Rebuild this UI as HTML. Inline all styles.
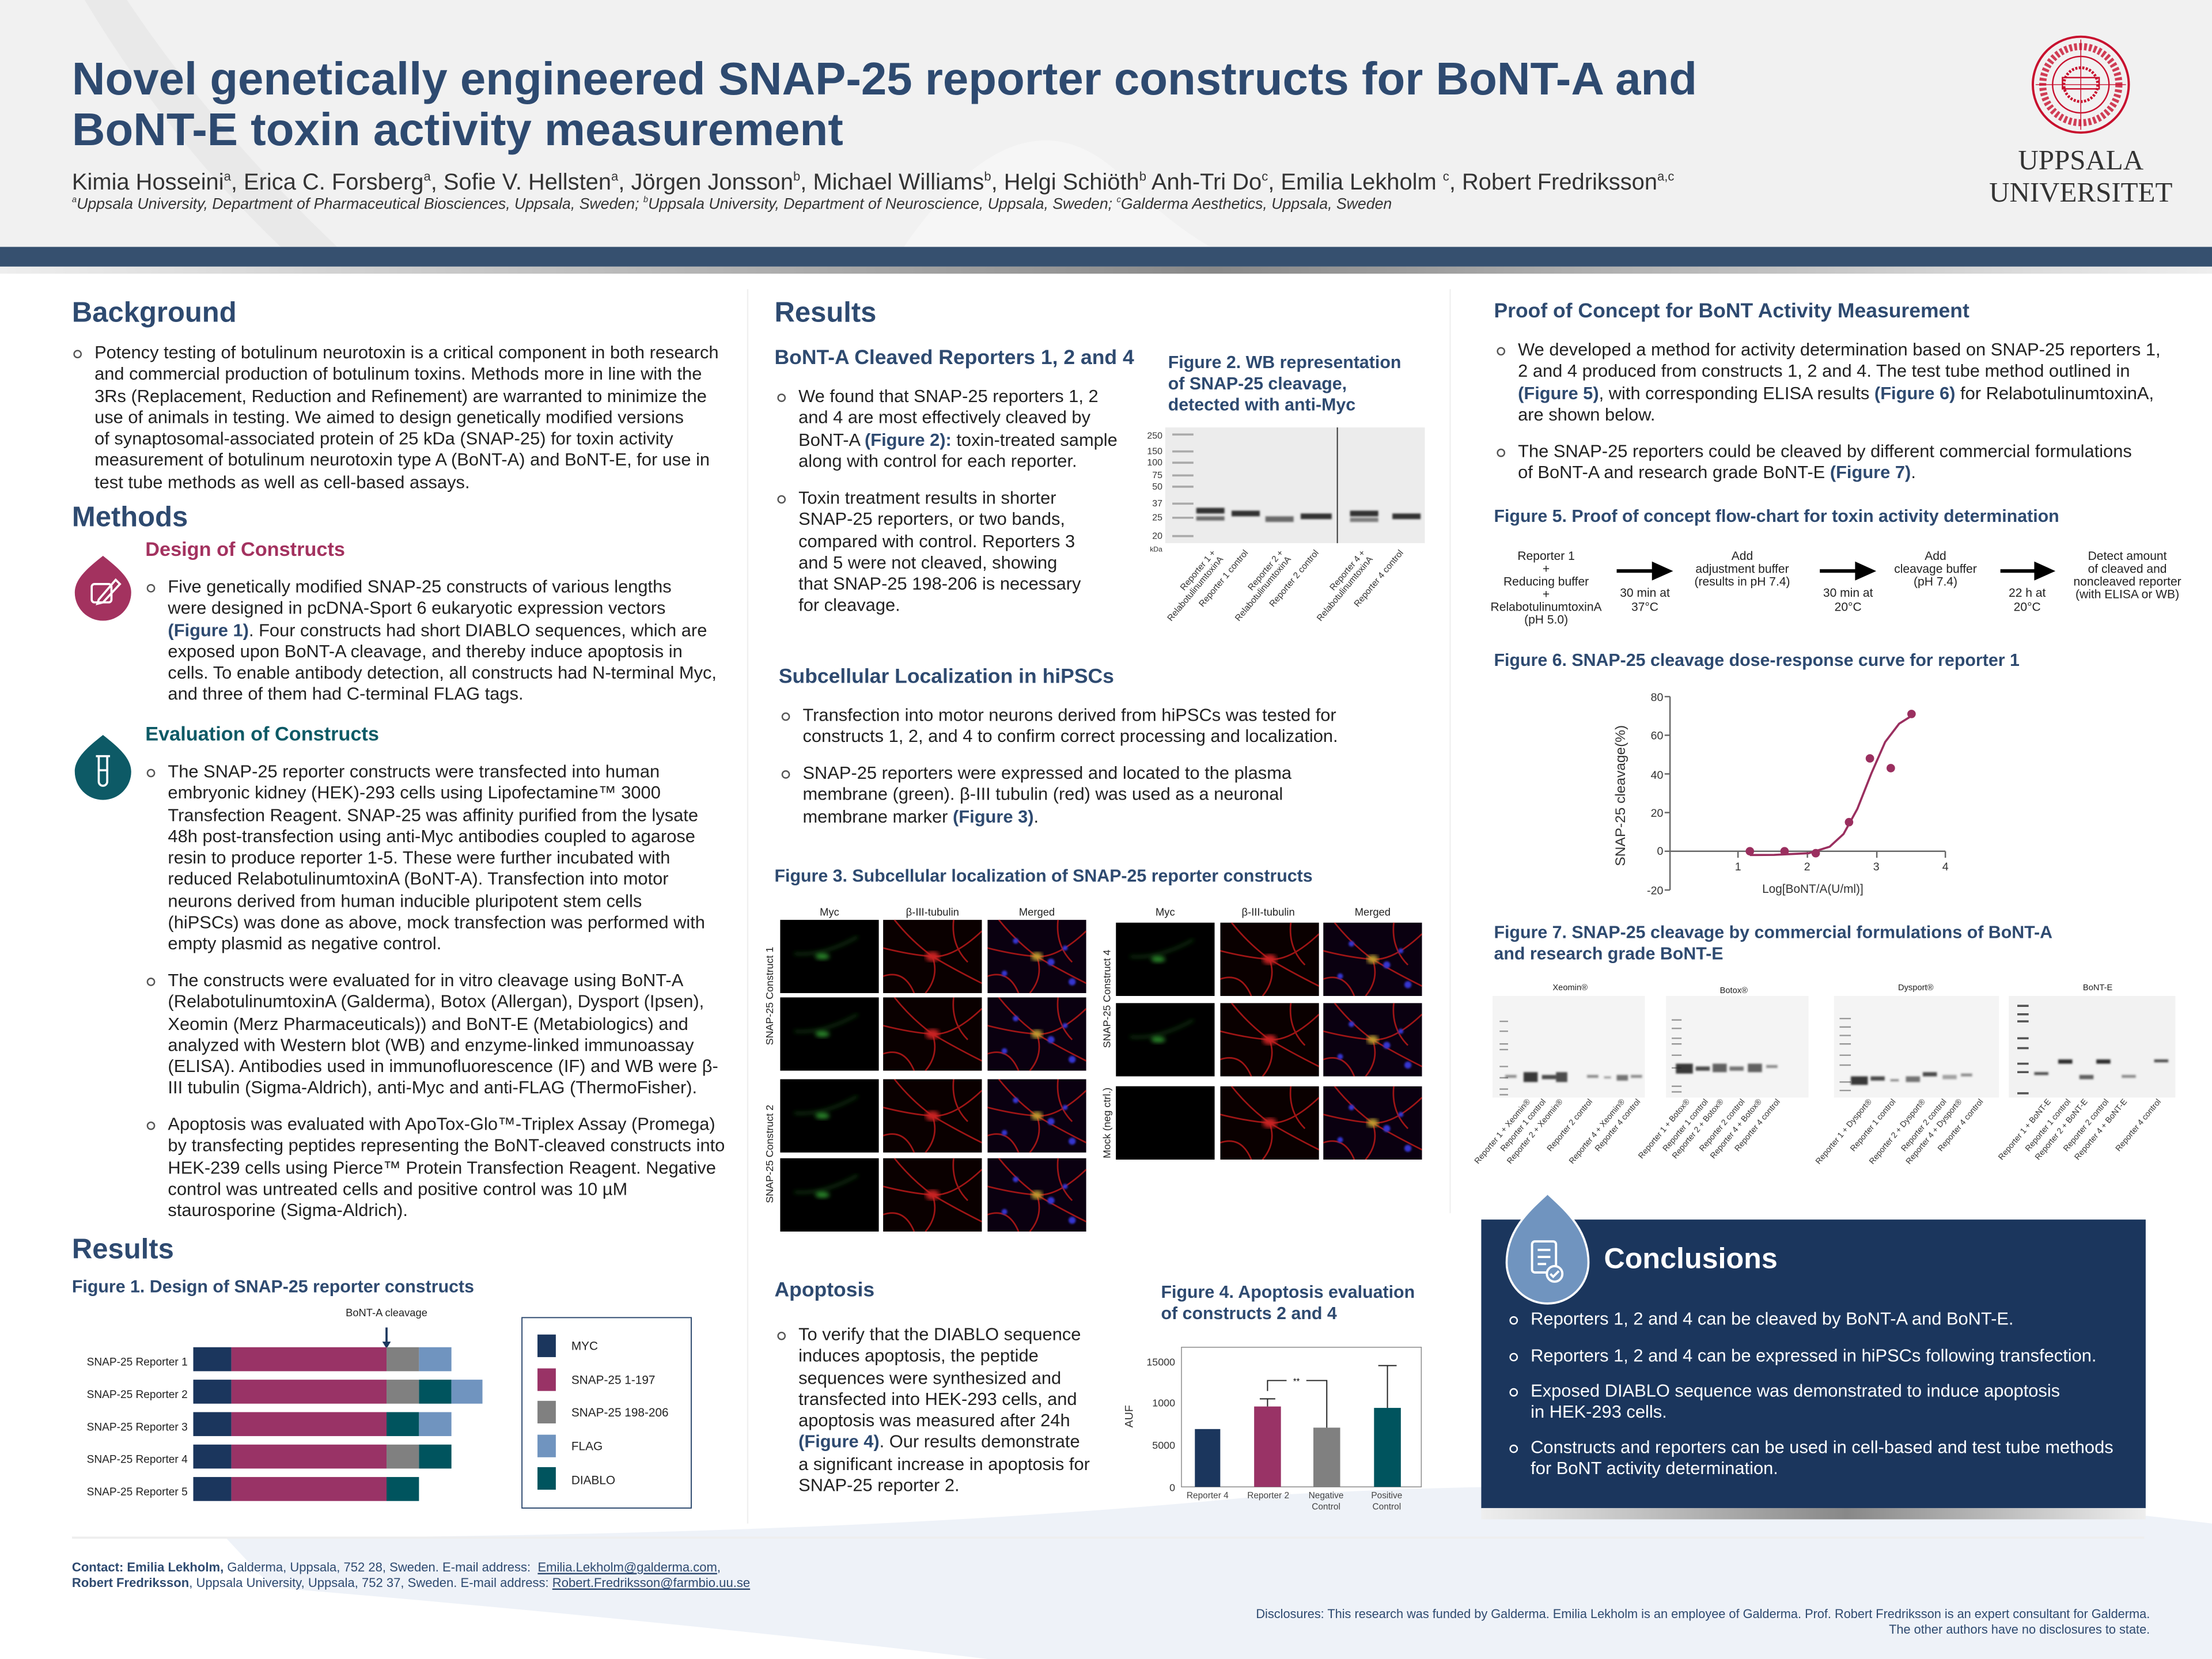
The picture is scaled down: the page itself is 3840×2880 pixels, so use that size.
<!DOCTYPE html>
<html><head><meta charset="utf-8">
<style>
*{margin:0;padding:0;box-sizing:border-box}
html,body{width:3840px;height:2880px;overflow:hidden;background:#fff}
#s{position:absolute;left:0;top:0;width:1568px;height:1176px;transform:scale(2.44898);transform-origin:0 0;font-family:"Liberation Sans",sans-serif;color:#222}
.a{position:absolute;white-space:nowrap}
.h1{font-size:20px;font-weight:bold;color:#2e4a70}
.h2{font-size:14.5px;font-weight:bold;color:#2e4a70}
.fg{font-size:12.4px;font-weight:bold;color:#2e4a70;line-height:15px}
.p{font-size:12.6px;line-height:15.3px}
.b{position:absolute;width:6px;height:6px;border:1px solid #555;border-radius:50%;margin-left:-15px;margin-top:5px}
.fl{color:#2e4a70;font-weight:bold}
.w .b{border-color:#fff}
</style></head><body><div id="s">
<svg width="1568" height="1176" style="position:absolute;left:0;top:0" xmlns="http://www.w3.org/2000/svg" font-family="Liberation Sans, sans-serif">
<defs>
<linearGradient id="sh" x1="0" x2="1"><stop offset="0" stop-color="#eee"/><stop offset=".55" stop-color="#888"/><stop offset="1" stop-color="#eee"/></linearGradient>
<filter id="bl"><feGaussianBlur stdDeviation="0.7"/></filter>
<filter id="bl2"><feGaussianBlur stdDeviation="1.5"/></filter>
<symbol id="myc" viewBox="0 0 70 52"><rect width="70" height="52" fill="#000"/><g filter="url(#bl2)"><ellipse cx="30" cy="26" rx="5" ry="2" fill="#2a8a2a"/><path d="M10 24 Q30 26 55 12" stroke="#1c5a1c" stroke-width="1" fill="none"/></g></symbol>
<symbol id="tub" viewBox="0 0 70 52"><rect width="70" height="52" fill="#0a0000"/><g stroke="#b01818" stroke-width="1.1" fill="none" opacity=".9"><path d="M0 20 Q20 25 35 26 T70 8"/><path d="M35 26 Q40 40 30 52"/><path d="M35 26 Q50 35 70 45"/><path d="M8 0 Q20 15 35 26"/><path d="M0 40 Q15 35 22 52"/><path d="M50 0 Q48 18 60 30"/></g><ellipse cx="35" cy="26" rx="5" ry="3.5" fill="#c82020" filter="url(#bl2)"/></symbol>
<symbol id="mrg" viewBox="0 0 70 52"><rect width="70" height="52" fill="#0a0010"/><g stroke="#b01818" stroke-width="1.1" fill="none" opacity=".9"><path d="M0 20 Q20 25 35 26 T70 8"/><path d="M35 26 Q40 40 30 52"/><path d="M35 26 Q50 35 70 45"/><path d="M8 0 Q20 15 35 26"/><path d="M0 40 Q15 35 22 52"/><path d="M50 0 Q48 18 60 30"/></g><g fill="#3434d0" filter="url(#bl)"><circle cx="20" cy="15" r="2"/><circle cx="45" cy="30" r="2.5"/><circle cx="55" cy="20" r="1.8"/><circle cx="12" cy="38" r="2"/><circle cx="60" cy="44" r="2.5"/></g><ellipse cx="35" cy="26" rx="4" ry="3" fill="#c0a030" filter="url(#bl2)"/></symbol>
</defs>
<rect width="1568" height="176" fill="#f1f1f1"/>
<path d="M60 0 Q120 100 200 176 L240 176 Q150 90 90 0Z" fill="#e9e9e9"/>
<path d="M640 176 Q720 60 790 120 Q830 160 860 176Z" fill="#f6f6f6"/>
<rect y="175" width="1568" height="14" fill="#36506f"/>
<rect y="189" width="1568" height="5" fill="url(#sh)"/>
<path d="M160 1090 Q600 1090 900 1060 Q1250 1040 1568 1080 L1568 1176 L240 1176Z" fill="#eef2f8"/>
<path d="M0 1110 Q400 1140 700 1176 L0 1176Z" fill="#fff"/>
<line x1="530" y1="205" x2="530" y2="1080" stroke="#f0f0f0" stroke-width="1"/>
<line x1="1028" y1="205" x2="1028" y2="860" stroke="#f0f0f0" stroke-width="1"/>
<line x1="51" y1="1090" x2="1520" y2="1090" stroke="#eee" stroke-width="1.5"/>
<g fill="none" stroke="#c8102e"><circle cx="1475" cy="60" r="34" stroke-width="1.6"/><circle cx="1475" cy="60" r="27" stroke-width="5" stroke-dasharray="2 1.5" opacity=".8"/><circle cx="1475" cy="60" r="20" stroke-width="1"/><circle cx="1475" cy="60" r="12" stroke-width="2" stroke-dasharray="1.5 1"/><rect x="1462" y="55" width="26" height="8" stroke-width="1"/><path d="M1475 28 V92 M1443 60 H1507" stroke-width=".6"/></g>
<text x="1475" y="120" font-family="Liberation Serif, serif" font-size="20" text-anchor="middle" fill="#333">UPPSALA</text>
<text x="1475" y="143" font-family="Liberation Serif, serif" font-size="20" text-anchor="middle" fill="#333">UNIVERSITET</text>
<path d="M73 394 C83 402 93 410 93 420 A20 20 0 1 1 53 420 C53 410 63 402 73 394Z" fill="#a3325f"/>
<g stroke="#fff" stroke-width="1.5" fill="none"><rect x="65" y="414" width="14" height="13" rx="2"/><path d="M70 425 L82 411 L85 414 L73 427 L69 428Z"/></g>
<path d="M73 521 C83 529 93 537 93 547 A20 20 0 1 1 53 547 C53 537 63 529 73 521Z" fill="#0d5a66"/>
<g stroke="#fff" stroke-width="1.5" fill="none"><path d="M68 536 H78 M70 536 V554 A3 3 0 0 0 76 554 V536"/><path d="M70 546 H76"/></g>
<text x="274" y="933" font-size="7.5" text-anchor="middle" fill="#222">BoNT-A cleavage</text>
<line x1="274" y1="941" x2="274" y2="952" stroke="#1b365d" stroke-width="1.5"/><path d="M271 951 L277 951 L274 956Z" fill="#1b365d"/>
<g font-size="7.8" text-anchor="end" fill="#222">
<text x="133" y="968">SNAP-25 Reporter 1</text><text x="133" y="991">SNAP-25 Reporter 2</text><text x="133" y="1014">SNAP-25 Reporter 3</text><text x="133" y="1037">SNAP-25 Reporter 4</text><text x="133" y="1060">SNAP-25 Reporter 5</text></g>
<g>
<rect x="137" y="955" width="27" height="17" fill="#1b365d"/><rect x="164" y="955" width="110" height="17" fill="#993366"/><rect x="274" y="955" width="23" height="17" fill="#808080"/><rect x="297" y="955" width="23" height="17" fill="#7094bf"/>
<rect x="137" y="978" width="27" height="17" fill="#1b365d"/><rect x="164" y="978" width="110" height="17" fill="#993366"/><rect x="274" y="978" width="23" height="17" fill="#808080"/><rect x="297" y="978" width="23" height="17" fill="#00545e"/><rect x="320" y="978" width="22" height="17" fill="#7094bf"/>
<rect x="137" y="1001" width="27" height="17" fill="#1b365d"/><rect x="164" y="1001" width="110" height="17" fill="#993366"/><rect x="274" y="1001" width="23" height="17" fill="#00545e"/><rect x="297" y="1001" width="23" height="17" fill="#7094bf"/>
<rect x="137" y="1024" width="27" height="17" fill="#1b365d"/><rect x="164" y="1024" width="110" height="17" fill="#993366"/><rect x="274" y="1024" width="23" height="17" fill="#808080"/><rect x="297" y="1024" width="23" height="17" fill="#00545e"/>
<rect x="137" y="1047" width="27" height="17" fill="#1b365d"/><rect x="164" y="1047" width="110" height="17" fill="#993366"/><rect x="274" y="1047" width="23" height="17" fill="#00545e"/>
</g>
<rect x="370" y="934" width="120" height="135" fill="#fff" stroke="#2e4a70" stroke-width=".8"/>
<rect x="381" y="946" width="13" height="16" fill="#1b365d"/><rect x="381" y="970" width="13" height="16" fill="#993366"/><rect x="381" y="993" width="13" height="16" fill="#808080"/><rect x="381" y="1017" width="13" height="16" fill="#7094bf"/><rect x="381" y="1040" width="13" height="16" fill="#00545e"/>
<g font-size="8.5" fill="#222"><text x="405" y="957">MYC</text><text x="405" y="981">SNAP-25 1-197</text><text x="405" y="1004">SNAP-25 198-206</text><text x="405" y="1028">FLAG</text><text x="405" y="1052">DIABLO</text></g>
<rect x="826" y="303" width="184" height="82" fill="#ececec"/>
<g stroke="#aaa" stroke-width="1.5"><line x1="831" y1="308" x2="846" y2="308"/><line x1="831" y1="320" x2="846" y2="320"/><line x1="831" y1="328" x2="846" y2="328"/><line x1="831" y1="337" x2="846" y2="337"/><line x1="831" y1="345" x2="846" y2="345"/><line x1="831" y1="357" x2="846" y2="357"/><line x1="831" y1="367" x2="846" y2="367"/><line x1="831" y1="380" x2="846" y2="380"/></g>
<g fill="#333" filter="url(#bl)"><rect x="848" y="360" width="20" height="4"/><rect x="848" y="366" width="20" height="3" opacity=".7"/><rect x="873" y="362" width="20" height="4"/><rect x="897" y="366" width="20" height="4" opacity=".7"/><rect x="922" y="364" width="22" height="4"/><rect x="957" y="362" width="20" height="4"/><rect x="957" y="367" width="20" height="3" opacity=".6"/><rect x="987" y="364" width="20" height="4"/></g>
<line x1="948" y1="303" x2="948" y2="385" stroke="#333" stroke-width=".8"/>
<g font-size="6.5" text-anchor="end" fill="#333"><text x="824" y="311">250</text><text x="824" y="322">150</text><text x="824" y="330">100</text><text x="824" y="339">75</text><text x="824" y="347">50</text><text x="824" y="359">37</text><text x="824" y="369">25</text><text x="824" y="382">20</text><text x="824" y="391" font-size="5">kDa</text></g>
<g font-size="6.3" text-anchor="end" fill="#333">
<text transform="translate(862,392) rotate(-50)"><tspan x="0" y="0">Reporter 1 +</tspan><tspan x="0" y="7">RelabotulinumtoxinA</tspan></text>
<text transform="translate(885,392) rotate(-50)">Reporter 1 control</text>
<text transform="translate(910,392) rotate(-50)"><tspan x="0" y="0">Reporter 2 +</tspan><tspan x="0" y="7">RelabotulinumtoxinA</tspan></text>
<text transform="translate(935,392) rotate(-50)">Reporter 2 control</text>
<text transform="translate(968,392) rotate(-50)"><tspan x="0" y="0">Reporter 4 +</tspan><tspan x="0" y="7">RelabotulinumtoxinA</tspan></text>
<text transform="translate(995,392) rotate(-50)">Reporter 4 control</text></g>
<g font-size="7.5" text-anchor="middle" fill="#222"><text x="588" y="649">Myc</text><text x="661" y="649">β-III-tubulin</text><text x="735" y="649">Merged</text><text x="826" y="649">Myc</text><text x="899" y="649">β-III-tubulin</text><text x="973" y="649">Merged</text></g>
<g font-size="7.3" text-anchor="middle" fill="#222"><text transform="translate(548,706) rotate(-90)">SNAP-25  Construct 1</text><text transform="translate(548,818) rotate(-90)">SNAP-25  Construct 2</text><text transform="translate(787,708) rotate(-90)">SNAP-25  Construct 4</text><text transform="translate(787,796) rotate(-90)">Mock (neg ctrl.)</text></g>
<use href="#myc" x="553" y="652" width="70" height="52"/><use href="#tub" x="626" y="652" width="70" height="52"/><use href="#mrg" x="700" y="652" width="70" height="52"/>
<use href="#myc" x="553" y="707" width="70" height="52"/><use href="#tub" x="626" y="707" width="70" height="52"/><use href="#mrg" x="700" y="707" width="70" height="52"/>
<use href="#myc" x="553" y="765" width="70" height="52"/><use href="#tub" x="626" y="765" width="70" height="52"/><use href="#mrg" x="700" y="765" width="70" height="52"/>
<use href="#myc" x="553" y="821" width="70" height="52"/><use href="#tub" x="626" y="821" width="70" height="52"/><use href="#mrg" x="700" y="821" width="70" height="52"/>
<use href="#myc" x="791" y="654" width="70" height="52"/><use href="#tub" x="865" y="654" width="70" height="52"/><use href="#mrg" x="938" y="654" width="70" height="52"/>
<use href="#myc" x="791" y="711" width="70" height="52"/><use href="#tub" x="865" y="711" width="70" height="52"/><use href="#mrg" x="938" y="711" width="70" height="52"/>
<rect x="791" y="770" width="70" height="52" fill="#000"/><use href="#tub" x="865" y="770" width="70" height="52"/><use href="#mrg" x="938" y="770" width="70" height="52"/>
<rect x="837.5" y="955" width="170" height="99" fill="#fff" stroke="#888" stroke-width=".6"/>
<g font-size="7.3" text-anchor="end" fill="#333"><text x="833" y="968">15000</text><text x="833" y="997">1000</text><text x="833" y="1027">5000</text><text x="833" y="1057">0</text></g>
<text transform="translate(803,1004) rotate(-90)" font-size="8" text-anchor="middle" fill="#333">AUF</text>
<rect x="847" y="1013" width="18" height="41" fill="#1b365d"/><rect x="889" y="997" width="19" height="57" fill="#993366"/><rect x="931" y="1012" width="19" height="42" fill="#808080"/><rect x="974" y="998" width="19" height="56" fill="#00545e"/>
<g stroke="#222" stroke-width=".8" fill="none"><path d="M898.5 997 V991.6 M893 991.6 H904"/><path d="M983.5 998 V968 M977 968 H990"/><path d="M898.5 986 V978.6 H912 M926 978.6 H940.5 V1012"/></g>
<text x="919" y="981" font-size="6" text-anchor="middle">**</text>
<g font-size="6.3" text-anchor="middle" fill="#444"><text x="856" y="1062">Reporter 4</text><text x="899" y="1062">Reporter 2</text><text x="940" y="1062">Negative</text><text x="940" y="1070">Control</text><text x="983" y="1062">Positive</text><text x="983" y="1070">Control</text></g>
<g font-size="8.6" text-anchor="middle" fill="#222">
<text x="1096" y="397">Reporter 1</text><text x="1096" y="406">+</text><text x="1096" y="415">Reducing buffer</text><text x="1096" y="424">+</text><text x="1096" y="433">RelabotulinumtoxinA</text><text x="1096" y="442">(pH 5.0)</text>
<text x="1166" y="423">30 min at</text><text x="1166" y="433">37°C</text>
<text x="1235" y="397">Add</text><text x="1235" y="406">adjustment buffer</text><text x="1235" y="415">(results in pH 7.4)</text>
<text x="1310" y="423">30 min at</text><text x="1310" y="433">20°C</text>
<text x="1372" y="397">Add</text><text x="1372" y="406">cleavage buffer</text><text x="1372" y="415">(pH 7.4)</text>
<text x="1437" y="423">22 h at</text><text x="1437" y="433">20°C</text>
<text x="1508" y="397">Detect amount</text><text x="1508" y="406">of cleaved and</text><text x="1508" y="415">noncleaved reporter</text><text x="1508" y="424">(with ELISA or WB)</text></g>
<g fill="#000"><rect x="1146" y="403.5" width="26" height="2.5"/><path d="M1171 398 L1186 404.8 L1171 411.5Z"/><rect x="1290" y="403.5" width="26" height="2.5"/><path d="M1315 398 L1330 404.8 L1315 411.5Z"/><rect x="1418" y="403.5" width="25" height="2.5"/><path d="M1442 398 L1457 404.8 L1442 411.5Z"/></g>
<g stroke="#666" stroke-width="1" fill="none"><path d="M1183.8 493.8 V630.9"/><path d="M1183.8 603.4 H1379"/><path d="M1180 493.8 H1183.8 M1180 521.2 H1183.8 M1180 548.6 H1183.8 M1180 576 H1183.8 M1180 603.4 H1183.8 M1180 630.9 H1183.8"/><path d="M1232 603.4 V608 M1281.2 603.4 V608 M1330.4 603.4 V608 M1379 603.4 V608"/></g>
<g font-size="8" fill="#333" text-anchor="end"><text x="1179" y="497">80</text><text x="1179" y="524">60</text><text x="1179" y="552">40</text><text x="1179" y="579">20</text><text x="1179" y="606">0</text><text x="1179" y="634">-20</text></g>
<g font-size="8" fill="#333" text-anchor="middle"><text x="1232" y="617">1</text><text x="1281" y="617">2</text><text x="1330" y="617">3</text><text x="1379" y="617">4</text></g>
<text x="1285" y="633" font-size="8.5" text-anchor="middle" fill="#333">Log[BoNT/A(U/ml)]</text>
<text transform="translate(1152,564) rotate(-90)" font-size="10" text-anchor="middle" fill="#333">SNAP-25 cleavage(%)</text>
<path d="M1240.4 606.1 L1257.6 606 L1282.2 604.8 L1297 600.2 L1306.8 591.2 L1316.6 573.4 L1326.5 548.3 L1336.3 526 L1346.2 513 L1355 507.5" fill="none" stroke="#9a2f5f" stroke-width="1.5"/>
<g fill="#9a2f5f"><circle cx="1240.4" cy="603.4" r="3"/><circle cx="1265" cy="603.4" r="3"/><circle cx="1287.1" cy="604.8" r="3"/><circle cx="1310.7" cy="582.8" r="3"/><circle cx="1325.5" cy="537.6" r="3"/><circle cx="1340.3" cy="544.5" r="3"/><circle cx="1355" cy="506.1" r="3"/></g>
<g font-size="6" text-anchor="middle" fill="#222"><text x="1113" y="702">Xeomin®</text><text x="1229" y="704">Botox®</text><text x="1358" y="702">Dysport®</text><text x="1487" y="702">BoNT-E</text></g>
<rect x="1058" y="706" width="108" height="72" fill="#f4f4f4"/><rect x="1181" y="706" width="101" height="72" fill="#f4f4f4"/><rect x="1300" y="706" width="117" height="72" fill="#f4f4f4"/><rect x="1424" y="706" width="118" height="72" fill="#f2f2f2"/>
<g stroke="#999" stroke-width="1"><path d="M1063 724h6M1063 731h6M1063 740h6M1063 744h6M1063 756h6M1063 764h6M1063 772h6M1063 776h6"/><path d="M1185 723h7M1185 729h7M1185 736h7M1185 740h7M1185 748h7M1185 757h7M1185 770h7M1185 774h7"/><path d="M1304 722h8M1304 728h8M1304 734h8M1304 740h8M1304 748h8M1304 755h8M1304 767h8M1304 773h8"/><path d="M1430 713h8M1430 719h8M1430 724h8M1430 736h8M1430 743h8M1430 754h8M1430 760h8M1430 775h8" stroke="#555" stroke-width="1.5"/></g>
<g fill="#222" filter="url(#bl)">
<rect x="1067" y="762" width="8" height="2" opacity=".5"/><rect x="1080" y="760" width="10" height="7" opacity=".9"/><rect x="1093" y="762" width="10" height="3" opacity=".8"/><rect x="1103" y="760" width="8" height="7" opacity=".8"/><rect x="1125" y="762" width="8" height="2" opacity=".5"/><rect x="1137" y="763" width="5" height="1.5" opacity=".4"/><rect x="1146" y="762" width="8" height="4" opacity=".6"/><rect x="1156" y="762" width="8" height="2" opacity=".5"/>
<rect x="1188" y="754" width="12" height="7" opacity=".9"/><rect x="1202" y="756" width="10" height="3" opacity=".8"/><rect x="1214" y="754" width="10" height="6" opacity=".7"/><rect x="1226" y="756" width="10" height="3" opacity=".6"/><rect x="1239" y="754" width="10" height="6" opacity=".7"/><rect x="1252" y="755" width="8" height="2" opacity=".5"/>
<rect x="1312" y="763" width="12" height="6" opacity=".9"/><rect x="1326" y="763" width="10" height="3" opacity=".8"/><rect x="1340" y="765" width="6" height="1.5" opacity=".5"/><rect x="1351" y="763" width="10" height="4" opacity=".6"/><rect x="1363" y="760" width="10" height="3" opacity=".8"/><rect x="1377" y="762" width="10" height="3" opacity=".4"/><rect x="1390" y="761" width="8" height="2" opacity=".5"/>
<rect x="1442" y="760" width="10" height="2" opacity=".8"/><rect x="1459" y="751" width="10" height="3" opacity=".95"/><rect x="1474" y="762" width="10" height="3" opacity=".7"/><rect x="1486" y="751" width="10" height="3" opacity=".95"/><rect x="1504" y="762" width="10" height="2" opacity=".5"/><rect x="1527" y="751" width="10" height="2" opacity=".8"/></g>
<g font-size="5.8" text-anchor="end" fill="#333">
<text transform="translate(1085,781) rotate(-50)">Reporter 1 + Xeomin®</text><text transform="translate(1096,781) rotate(-50)">Reporter 1 control</text><text transform="translate(1108,781) rotate(-50)">Reporter 2 + Xeomin®</text><text transform="translate(1129,781) rotate(-50)">Reporter 2 control</text><text transform="translate(1152,781) rotate(-50)">Reporter 4 + Xeomin®</text><text transform="translate(1163,781) rotate(-50)">Reporter 4 control</text>
<text transform="translate(1198,781) rotate(-50)">Reporter 1 + Botox®</text><text transform="translate(1211,781) rotate(-50)">Reporter 1 control</text><text transform="translate(1222,781) rotate(-50)">Reporter 2 + Botox®</text><text transform="translate(1237,781) rotate(-50)">Reporter 2 control</text><text transform="translate(1249,781) rotate(-50)">Reporter 4 + Botox®</text><text transform="translate(1262,781) rotate(-50)">Reporter 4 control</text>
<text transform="translate(1327,781) rotate(-50)">Reporter 1 + Dysport®</text><text transform="translate(1344,781) rotate(-50)">Reporter 1 control</text><text transform="translate(1365,781) rotate(-50)">Reporter 2 + Dysport®</text><text transform="translate(1380,781) rotate(-50)">Reporter 2 control</text><text transform="translate(1391,781) rotate(-50)">Reporter 4 + Dysport®</text><text transform="translate(1406,781) rotate(-50)">Reporter 4 control</text>
<text transform="translate(1454,781) rotate(-50)">Reporter 1 + BoNT-E</text><text transform="translate(1468,781) rotate(-50)">Reporter 1 control</text><text transform="translate(1480,781) rotate(-50)">Reporter 2 + BoNT-E</text><text transform="translate(1495,781) rotate(-50)">Reporter 2 control</text><text transform="translate(1508,781) rotate(-50)">Reporter 4 + BoNT-E</text><text transform="translate(1532,781) rotate(-50)">Reporter 4 control</text></g>
<rect x="1050" y="864.5" width="471" height="205" fill="#1b365d"/>
<rect x="1050" y="1069" width="471" height="8" fill="url(#sh)"/>
<path d="M1097 846 C1110 858 1126 872 1126 895 A29 29 0 1 1 1068 895 C1068 872 1084 858 1097 846Z" fill="#7094bf" stroke="#fff" stroke-width="1.5"/>
<g stroke="#fff" stroke-width="1.6" fill="none"><rect x="1086" y="880" width="17" height="22" rx="2"/><path d="M1090 886h9M1090 891h9M1090 896h6"/><circle cx="1102" cy="903" r="5.5" fill="#7094bf"/><path d="M1099 903 l2 2 l4 -4"/></g>
</svg>

<div class="a" style="left:51px;top:38px;font-size:32.6px;font-weight:bold;color:#2e4a70;line-height:35.7px">Novel genetically engineered SNAP-25 reporter constructs for BoNT-A and<br>BoNT-E toxin activity measurement</div>
<div class="a" style="left:51px;top:120px;font-size:16.3px;color:#333">Kimia Hosseini<sup style="font-size:9px">a</sup>, Erica C. Forsberg<sup style="font-size:9px">a</sup>, Sofie V. Hellsten<sup style="font-size:9px">a</sup>, Jörgen Jonsson<sup style="font-size:9px">b</sup>, Michael Williams<sup style="font-size:9px">b</sup>, Helgi Schiöth<sup style="font-size:9px">b</sup> Anh-Tri Do<sup style="font-size:9px">c</sup>, Emilia Lekholm <sup style="font-size:9px">c</sup>, Robert Fredriksson<sup style="font-size:9px">a,c</sup></div>
<div class="a" style="left:51px;top:139px;font-size:10.9px;font-style:italic;color:#333"><sup style="font-size:6px">a</sup>Uppsala University, Department of Pharmaceutical Biosciences, Uppsala, Sweden; <sup style="font-size:6px">b</sup>Uppsala University, Department of Neuroscience, Uppsala, Sweden; <sup style="font-size:6px">c</sup>Galderma Aesthetics, Uppsala, Sweden</div>

<div class="a h1" style="left:51px;top:211px">Background</div>
<div class="a p" style="left:67px;top:243px"><span class="b"></span>Potency testing of botulinum neurotoxin is a critical component in both research<br>and commercial production of botulinum toxins. Methods more in line with the<br>3Rs (Replacement, Reduction and Refinement) are warranted to minimize the<br>use of animals in testing. We aimed to design genetically modified versions<br>of synaptosomal-associated protein of 25 kDa (SNAP-25) for toxin activity<br>measurement of botulinum neurotoxin type A (BoNT-A) and BoNT-E, for use in<br>test tube methods as well as cell-based assays.</div>
<div class="a h1" style="left:51px;top:356px">Methods</div>
<div class="a" style="left:103px;top:381px;font-size:14px;font-weight:bold;color:#a3325f">Design of Constructs</div>
<div class="a p" style="left:119px;top:409px"><span class="b"></span>Five genetically modified SNAP-25 constructs of various lengths<br>were designed in pcDNA-Sport 6 eukaryotic expression vectors<br><span class="fl">(Figure 1)</span>. Four constructs had short DIABLO sequences, which are<br>exposed upon BoNT-A cleavage, and thereby induce apoptosis in<br>cells. To enable antibody detection, all constructs had N-terminal Myc,<br>and three of them had C-terminal FLAG tags.</div>
<div class="a" style="left:103px;top:512px;font-size:14px;font-weight:bold;color:#0d5a66">Evaluation of Constructs</div>
<div class="a p" style="left:119px;top:540px"><span class="b"></span>The SNAP-25 reporter constructs were transfected into human<br>embryonic kidney (HEK)-293 cells using Lipofectamine™ 3000<br>Transfection Reagent. SNAP-25 was affinity purified from the lysate<br>48h post-transfection using anti-Myc antibodies coupled to agarose<br>resin to produce reporter 1-5. These were further incubated with<br>reduced RelabotulinumtoxinA (BoNT-A). Transfection into motor<br>neurons derived from human inducible pluripotent stem cells<br>(hiPSCs) was done as above, mock transfection was performed with<br>empty plasmid as negative control.</div>
<div class="a p" style="left:119px;top:688px"><span class="b"></span>The constructs were evaluated for in vitro cleavage using BoNT-A<br>(RelabotulinumtoxinA (Galderma), Botox (Allergan), Dysport (Ipsen),<br>Xeomin (Merz Pharmaceuticals)) and BoNT-E (Metabiologics) and<br>analyzed with Western blot (WB) and enzyme-linked immunoassay<br>(ELISA). Antibodies used in immunofluorescence (IF) and WB were β-<br>III tubulin (Sigma-Aldrich), anti-Myc and anti-FLAG (ThermoFisher).</div>
<div class="a p" style="left:119px;top:790px"><span class="b"></span>Apoptosis was evaluated with ApoTox-Glo™-Triplex Assay (Promega)<br>by transfecting peptides representing the BoNT-cleaved constructs into<br>HEK-239 cells using Pierce™ Protein Transfection Reagent. Negative<br>control was untreated cells and positive control was 10 µM<br>staurosporine (Sigma-Aldrich).</div>
<div class="a h1" style="left:51px;top:875px">Results</div>
<div class="a fg" style="left:51px;top:905px">Figure 1. Design of SNAP-25 reporter constructs</div>

<div class="a h1" style="left:549px;top:211px">Results</div>
<div class="a h2" style="left:549px;top:246px">BoNT-A Cleaved Reporters 1, 2 and 4</div>
<div class="a p" style="left:566px;top:274px"><span class="b"></span>We found that SNAP-25 reporters 1, 2<br>and 4 are most effectively cleaved by<br>BoNT-A <span class="fl">(Figure 2):</span> toxin-treated sample<br>along with control for each reporter.</div>
<div class="a p" style="left:566px;top:346px"><span class="b"></span>Toxin treatment results in shorter<br>SNAP-25 reporters, or two bands,<br>compared with control. Reporters 3<br>and 5 were not cleaved, showing<br>that SNAP-25 198-206 is necessary<br>for cleavage.</div>
<div class="a fg" style="left:828px;top:250px">Figure 2. WB representation<br>of SNAP-25 cleavage,<br>detected with anti-Myc</div>
<div class="a h2" style="left:552px;top:472px">Subcellular Localization in hiPSCs</div>
<div class="a p" style="left:569px;top:500px"><span class="b"></span>Transfection into motor neurons derived from hiPSCs was tested for<br>constructs 1, 2, and 4 to confirm correct processing and localization.</div>
<div class="a p" style="left:569px;top:541px"><span class="b"></span>SNAP-25 reporters were expressed and located to the plasma<br>membrane (green). β-III tubulin (red) was used as a neuronal<br>membrane marker <span class="fl">(Figure 3)</span>.</div>
<div class="a fg" style="left:549px;top:614px">Figure 3. Subcellular localization of SNAP-25 reporter constructs</div>
<div class="a h2" style="left:549px;top:907px">Apoptosis</div>
<div class="a p" style="left:566px;top:939px"><span class="b"></span>To verify that the DIABLO sequence<br>induces apoptosis, the peptide<br>sequences were synthesized and<br>transfected into HEK-293 cells, and<br>apoptosis was measured after 24h<br><span class="fl">(Figure 4)</span>. Our results demonstrate<br>a significant increase in apoptosis for<br>SNAP-25 reporter 2.</div>
<div class="a fg" style="left:823px;top:909px">Figure 4. Apoptosis evaluation<br>of constructs 2 and 4</div>

<div class="a h2" style="left:1059px;top:213px">Proof of Concept for BoNT Activity Measurement</div>
<div class="a p" style="left:1076px;top:241px"><span class="b"></span>We developed a method for activity determination based on SNAP-25 reporters 1,<br>2 and 4 produced from constructs 1, 2 and 4. The test tube method outlined in<br><span class="fl">(Figure 5)</span>, with corresponding ELISA results <span class="fl">(Figure 6)</span> for RelabotulinumtoxinA,<br>are shown below.</div>
<div class="a p" style="left:1076px;top:313px"><span class="b"></span>The SNAP-25 reporters could be cleaved by different commercial formulations<br>of BoNT-A and research grade BoNT-E <span class="fl">(Figure 7)</span>.</div>
<div class="a fg" style="left:1059px;top:359px">Figure 5. Proof of concept flow-chart for toxin activity determination</div>
<div class="a fg" style="left:1059px;top:461px">Figure 6. SNAP-25 cleavage dose-response curve for reporter 1</div>
<div class="a fg" style="left:1059px;top:654px">Figure 7. SNAP-25 cleavage by commercial formulations of BoNT-A<br>and research grade BoNT-E</div>

<div class="a" style="left:1137px;top:881px;font-size:20.5px;font-weight:bold;color:#fff">Conclusions</div>
<div class="a p w" style="left:1085px;top:928px;color:#fff;font-size:12.6px"><span class="b"></span>Reporters 1, 2 and 4 can be cleaved by BoNT-A and BoNT-E.</div>
<div class="a p w" style="left:1085px;top:954px;color:#fff;font-size:12.6px"><span class="b"></span>Reporters 1, 2 and 4 can be expressed in hiPSCs following transfection.</div>
<div class="a p w" style="left:1085px;top:979px;color:#fff;font-size:12.6px"><span class="b"></span>Exposed DIABLO sequence was demonstrated to induce apoptosis<br>in HEK-293 cells.</div>
<div class="a p w" style="left:1085px;top:1019px;color:#fff;font-size:12.6px"><span class="b"></span>Constructs and reporters can be used in cell-based and test tube methods<br>for BoNT activity determination.</div>

<div class="a" style="left:51px;top:1106px;font-size:9px;line-height:10.8px;color:#2e4a70"><b>Contact: Emilia Lekholm,</b> Galderma, Uppsala, 752 28, Sweden. E-mail address:&nbsp; <u>Emilia.Lekholm@galderma.com</u>,<br><b>Robert Fredriksson</b>, Uppsala University, Uppsala, 752 37, Sweden. E-mail address: <u>Robert.Fredriksson@farmbio.uu.se</u></div>
<div class="a" style="right:44px;top:1139px;font-size:8.9px;line-height:11px;color:#2e4a70;text-align:right">Disclosures: This research was funded by Galderma. Emilia Lekholm is an employee of Galderma. Prof. Robert Fredriksson is an expert consultant for Galderma.<br>The other authors have no disclosures to state.</div>
</div></body></html>
